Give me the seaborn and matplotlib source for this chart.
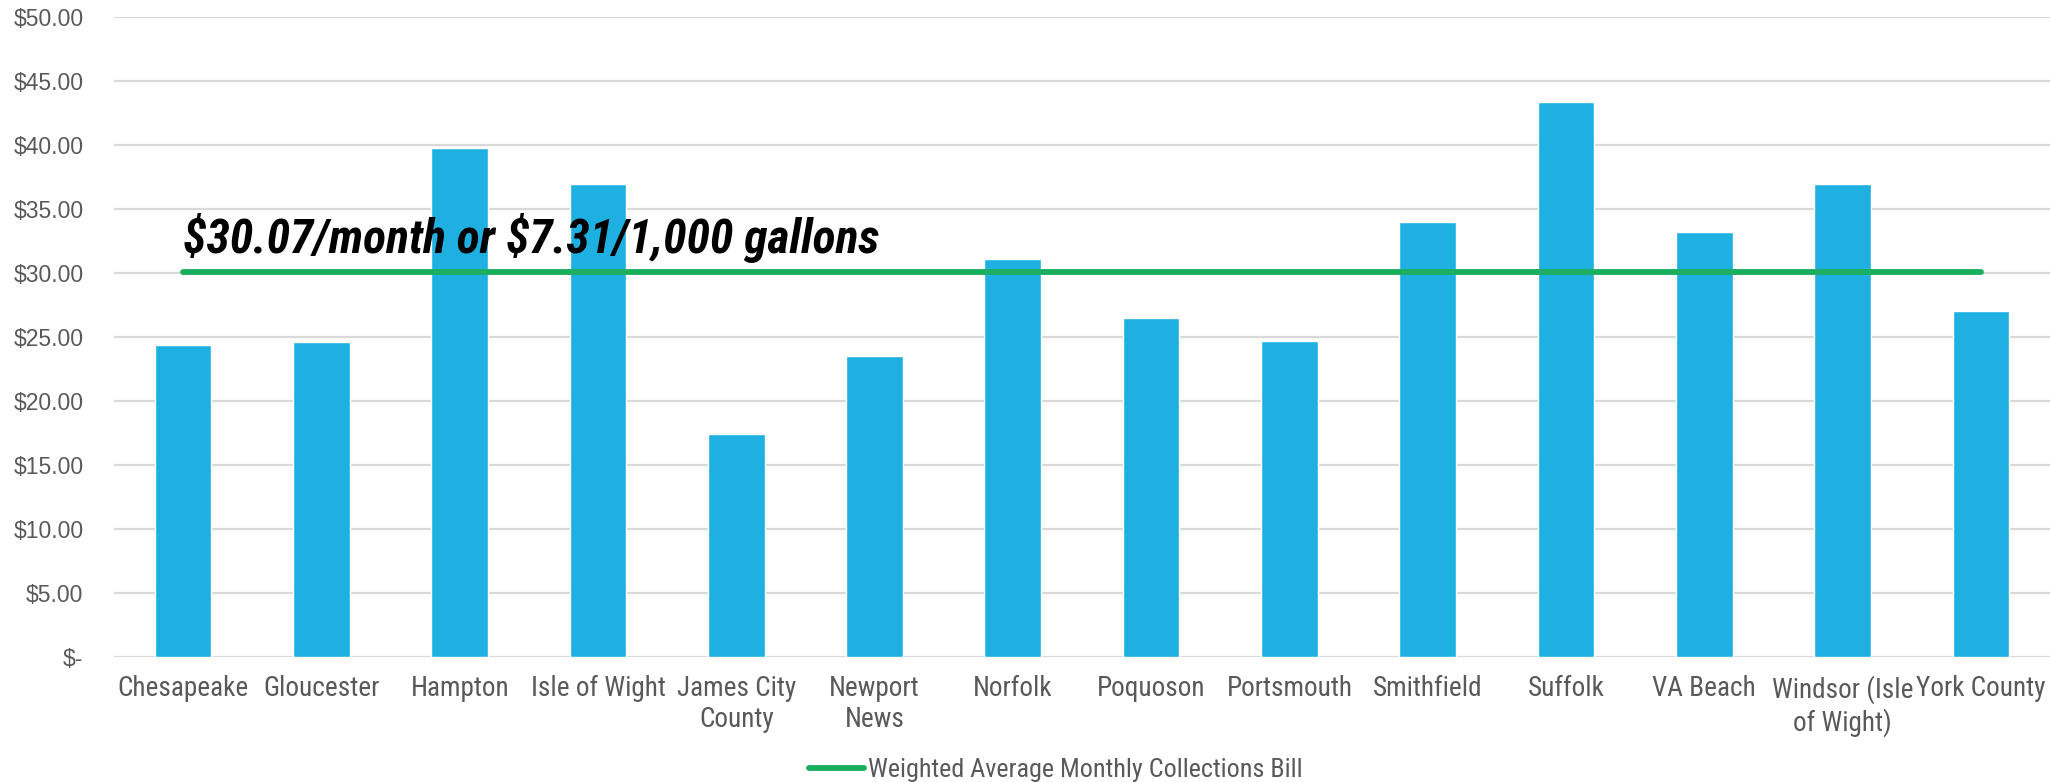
import matplotlib
matplotlib.use("Agg")
import matplotlib.pyplot as plt
from matplotlib import font_manager as fm
import seaborn as sns
import numpy as np
import pandas as pd

categories = ["Chesapeake", "Gloucester", "Hampton", "Isle of Wight", "James City\nCounty",
              "Newport\nNews", "Norfolk", "Poquoson", "Portsmouth", "Smithfield",
              "Suffolk", "VA Beach", "Windsor (Isle\nof Wight)", "York County"]
monthly_bill = [24.4, 24.6, 39.8, 37.0, 17.4, 23.5, 31.1, 26.5, 24.7, 34.0, 43.4, 33.2, 37.0, 27.0]
weighted_avg = 30.07
annotation = "$30.07/month or $7.31/1,000 gallons"
legend_label = "Weighted Average Monthly Collections Bill"
y_ticks = [0, 5, 10, 15, 20, 25, 30, 35, 40, 45, 50]
y_tick_labels = ["$-", "$5.00", "$10.00", "$15.00", "$20.00", "$25.00", "$30.00",
                 "$35.00", "$40.00", "$45.00", "$50.00"]

sns.set_theme(style="white")
installed = {f.name for f in fm.fontManager.ttflist}
narrow = next((n for n in ["Liberation Sans Narrow", "DejaVu Sans Condensed",
                           "Roboto Condensed", "Open Sans Condensed", "Liberation Sans"]
               if n in installed), "DejaVu Sans")
NARROW = [narrow, "DejaVu Sans"]
WIDE = ["Liberation Sans", "DejaVu Sans"]
plt.rcParams['font.family'] = NARROW
plt.rcParams['text.parse_math'] = False

BAR = "#1FB0E2"
GREEN = "#1BAE5E"
GRID = "#D9D9D9"
TXT = "#595959"

fig = plt.figure(figsize=(20.5, 7.82), dpi=100)
ax = fig.add_axes([0.0556, 0.160, 0.9444, 0.818])
renderer = fig.canvas.get_renderer()


def fit_size(text, target_px, base=20, **kw):
    t = fig.text(0, 0, text, fontsize=base, **kw)
    w = t.get_window_extent(renderer).width
    t.remove()
    return base * target_px / w


df = pd.DataFrame({"category": categories, "bill": monthly_bill})
sns.barplot(data=df, x="category", y="bill", color=BAR, width=0.41, ax=ax,
            saturation=1, zorder=2)

xs = np.arange(len(categories))
sns.lineplot(x=xs, y=[weighted_avg] * len(categories), color=GREEN, linewidth=4.2,
             ax=ax, label=legend_label, zorder=3, solid_capstyle="round")

x_fs = fit_size("Chesapeake", 131, family=NARROW)
y_fs = fit_size("$50.00", 70, family=WIDE)
ann_fs = fit_size(annotation, 697, family=NARROW, fontweight="bold", fontstyle="italic")
leg_fs = fit_size(legend_label, 435, family=NARROW)

ax.set_xlim(-0.5, len(categories) - 0.5)
ax.set_ylim(0, 50)
ax.set_yticks(y_ticks)
ax.set_yticklabels(y_tick_labels, family=WIDE, fontsize=y_fs, color=TXT)
ax.set_xticks(xs)
ax.set_xticklabels(categories, fontsize=x_fs, color=TXT, linespacing=1.2)
ax.tick_params(axis='y', length=0, pad=22)
ax.tick_params(axis='x', length=0, pad=13)
for v in y_ticks:
    ax.axhline(v, color=GRID, linewidth=1.6, zorder=1)
for s in ax.spines.values():
    s.set_visible(False)
ax.set_xlabel("")
ax.set_ylabel("")

ax.text(0, 31.6, annotation, fontsize=ann_fs, fontweight="bold", fontstyle="italic",
        color="black", va="baseline", ha="left", zorder=4)

ax.get_legend().remove()
h, l = ax.get_legend_handles_labels()
fig.legend(h, l, loc="center", bbox_to_anchor=(0.515, 0.015), frameon=False,
           fontsize=leg_fs, labelcolor=TXT, handlelength=2.1, handletextpad=0.15)

fig.savefig("out.png", dpi=100)
